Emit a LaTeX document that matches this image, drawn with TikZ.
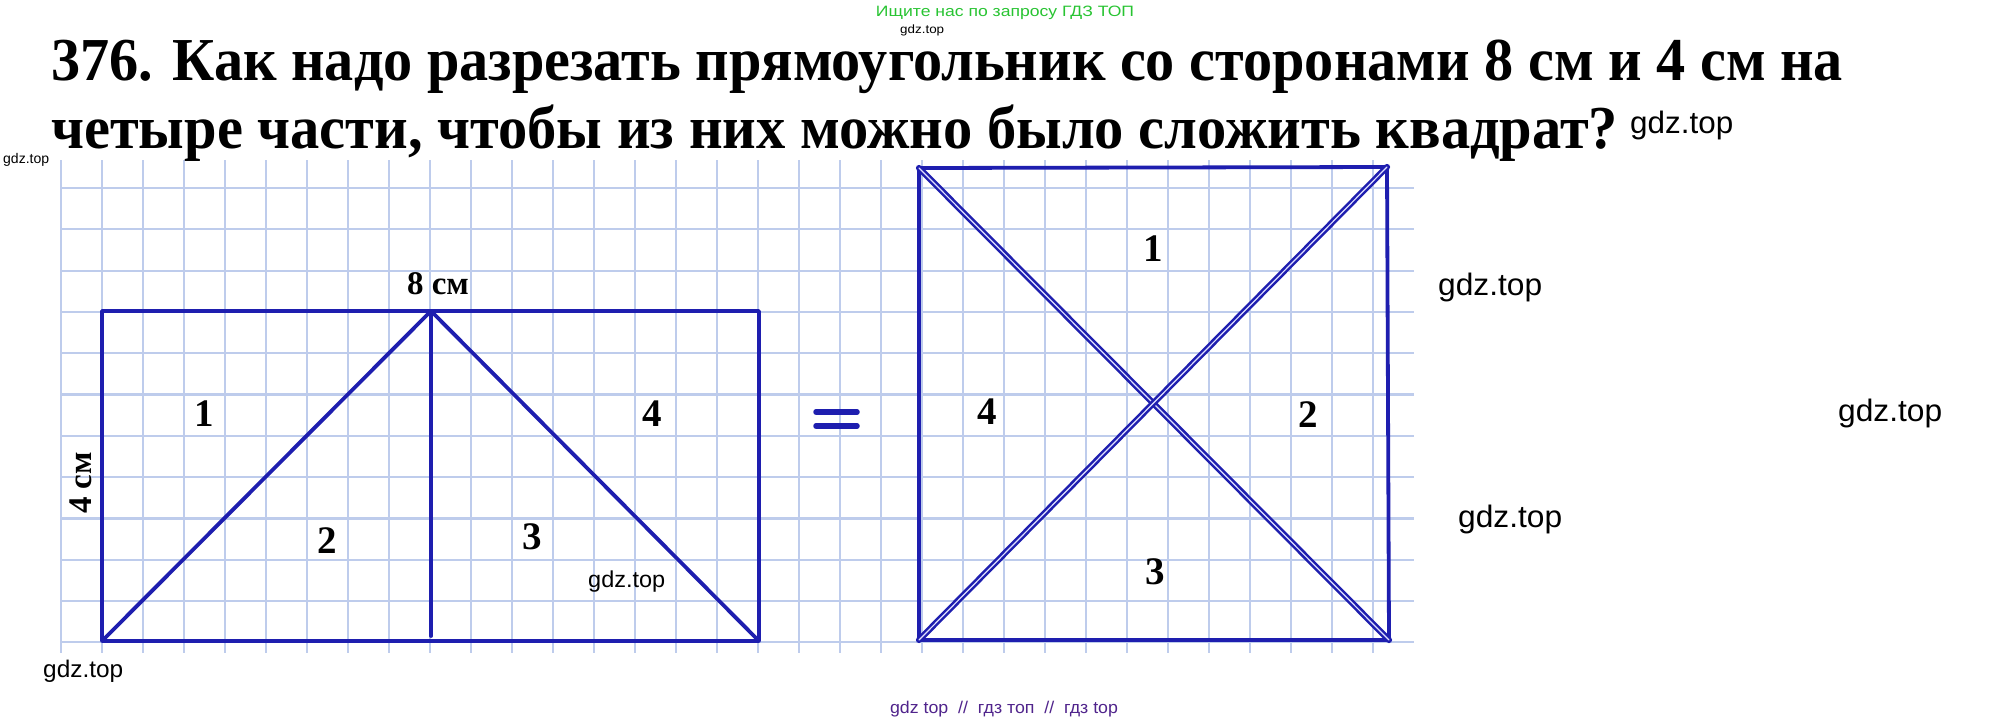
\documentclass[tikz,border=0pt]{standalone}
\usepackage{fontspec}
\usepackage{graphicx}
\setmainfont{Liberation Serif}
\newfontfamily\wmfont{Liberation Sans}
\definecolor{penblue}{RGB}{30,30,175}
\definecolor{gridblue}{RGB}{190,204,236}
\definecolor{wmgreen}{RGB}{40,196,50}
\definecolor{wmpurple}{RGB}{80,36,140}
\newcommand{\wmk}[2]{\resizebox{#2pt}{\height}{\fontsize{#1}{#1}\wmfont gdz.top}}
\begin{document}
\begin{tikzpicture}[x=1pt,y=-1pt,
  gridline/.style={draw=gridblue,line width=2.2},
  blueline/.style={draw=penblue,line width=3.8,line join=round,line cap=round},
  dblline/.style={draw=penblue,line width=2.5,double=white!88!blue,double distance=1.2,line cap=round},
  digit/.style={inner sep=0,font=\fontsize{39}{39}\selectfont\bfseries},
  cmlabel/.style={inner sep=0,font=\fontsize{33}{33}\selectfont\bfseries},
  wm/.style={inner sep=0,anchor=base west,text=black}]
\useasboundingbox (0,0) rectangle (2011,721);
\fill[white] (0,0) rectangle (2011,721);
% grid
\foreach \k in {0,...,32} \draw[gridline] ({61+41*\k},160) -- ({61+41*\k},653);
\foreach \k in {0,...,11} \draw[gridline] (60,{188+41.3*\k}) -- (1414,{188+41.3*\k});
% title
\node[inner sep=0,anchor=base west] (title1) at (51,80)
  {\resizebox{1792pt}{\height}{\fontsize{61}{62}\selectfont\bfseries 376. Как надо разрезать прямоугольник со сторонами 8 см и 4 см на}};
\node[inner sep=0,anchor=base west] (title2) at (51,148)
  {\resizebox{1567pt}{\height}{\fontsize{61}{62}\selectfont\bfseries четыре части, чтобы из них можно было сложить квадрат?}};
% rectangle
\coordinate (A) at (102,311);
\coordinate (B) at (759,311);
\coordinate (C) at (759,641);
\coordinate (D) at (102,641);
\coordinate (P) at (431,311);
\coordinate (Q) at (431,636);
\draw[blueline] (A) -- (B) -- (C) -- (D) -- cycle;
\draw[blueline] (D) -- (P) -- (C);
\draw[blueline] (P) -- (Q);
\node[cmlabel] (l8) at (438,284) {8 см};
\node[cmlabel,rotate=90] (l4) at (81,483) {4 см};
\node[digit] (r1) at (204,414) {1};
\node[digit] (r4) at (652,414) {4};
\node[digit] (r2) at (327,541) {2};
\node[digit] (r3) at (532,537) {3};
% equals sign
\draw[penblue,line width=5.5,line cap=round] (816,412) -- (857,412);
\draw[penblue,line width=5.5,line cap=round] (816,426) -- (857,426);
% square
\coordinate (E) at (919,168);
\coordinate (F) at (1387,167);
\coordinate (G) at (1389,640);
\coordinate (H) at (919,640);
\draw[blueline] (E) -- (F) -- (G) -- (H) -- cycle;
\draw[dblline] (E) -- (G);
\draw[dblline] (F) -- (H);
\node[digit] (s1) at (1153,249) {1};
\node[digit] (s4) at (987,412) {4};
\node[digit] (s2) at (1308,415) {2};
\node[digit] (s3) at (1155,572) {3};
% watermarks
\node[inner sep=0,anchor=base] (green) at (1005,16)
  {\resizebox{258pt}{\height}{\color{wmgreen}\fontsize{15}{15}\wmfont Ищите нас по запросу ГДЗ ТОП}};
\node[wm] (w1) at (900,33) {\wmk{12}{44}};
\node[wm] (w2) at (1630,133) {\wmk{31}{103}};
\node[wm] (w3) at (3,163) {\wmk{14}{46}};
\node[wm] (w4) at (1438,295) {\wmk{31}{104}};
\node[wm] (w5) at (1838,421) {\wmk{31}{104}};
\node[wm] (w6) at (1458,527) {\wmk{31}{104}};
\node[wm] (w7) at (588,587) {\wmk{23}{77}};
\node[wm] (w8) at (43,677) {\wmk{24}{80}};
\node[inner sep=0,anchor=base] (bottom) at (1004,713)
  {\resizebox{228pt}{\height}{\color{wmpurple}\fontsize{17}{17}\wmfont gdz top\ \ //\ \ гдз топ\ \ //\ \ гдз top}};
\end{tikzpicture}
\end{document}
